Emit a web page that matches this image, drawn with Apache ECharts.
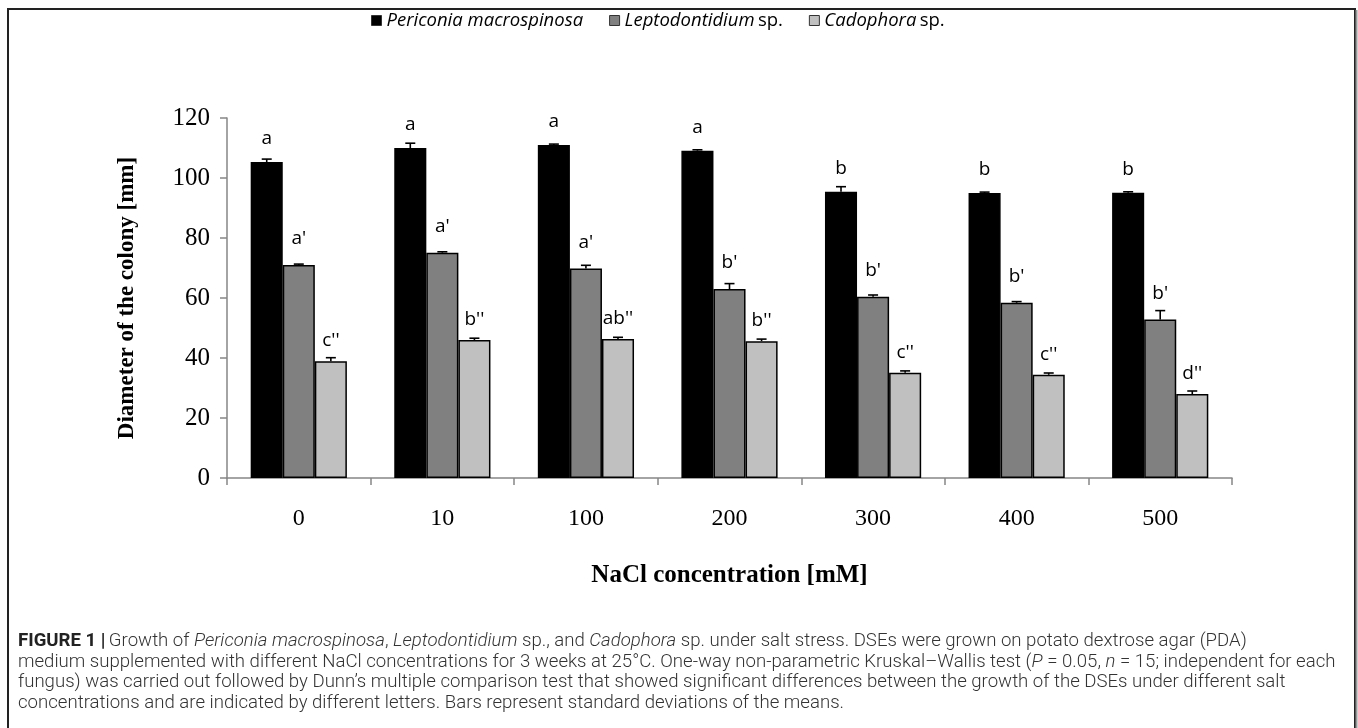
<!DOCTYPE html>
<html>
<head>
<meta charset="utf-8">
<title>NaCl growth</title>
<script src="https://cdn.jsdelivr.net/npm/echarts@6/dist/echarts.min.js"></script>
<style>
  html, body { margin: 0; padding: 0; background: #fff; }
  #chart { width: 1358px; height: 728px; }
</style>
</head>
<body>
<div id="chart"></div>
<script>
// NaCl concentrations (mM)
var categories = ['0', '10', '100', '200', '300', '400', '500'];

// mean colony diameter (mm) and standard deviations
var periconia = [105.3, 110, 111, 109.1, 95.4, 95, 95.1];
var periconiaSd = [1, 1.6, 0.3, 0.3, 1.7, 0.3, 0.3];
var lepto = [71, 75.1, 69.8, 63, 60.4, 58.4, 52.8];
var leptoSd = [0.3, 0.3, 1.1, 1.8, 0.6, 0.4, 3];
var cado = [38.9, 46, 46.3, 45.6, 35.1, 34.4, 28];
var cadoSd = [1.2, 0.6, 0.6, 0.7, 0.6, 0.6, 1];

// significance letters
var periconiaLetters = ['a', 'a', 'a', 'a', 'b', 'b', 'b'];
var leptoLetters = ["a'", "a'", "a'", "b'", "b'", "b'", "b'"];
var cadoLetters = ["c''", "b''", "ab''", "b''", "c''", "c''", "d''"];

var seriesNames = ['Periconia macrospinosa', 'Leptodontidium sp.', 'Cadophora sp.'];
var colors = ['#000000', '#808080', '#c0c0c0'];

var chart = echarts.init(document.getElementById('chart'));

// error bar (upward only) for bar number idx out of 3 in each group
function errorBar(idx) {
  return function (params, api) {
    var band = api.size([1, 0])[0];
    var barW = band * 0.67 / 3;
    var base = api.coord([api.value(0), api.value(1)]);
    var top = api.coord([api.value(0), api.value(1) + api.value(2)]);
    var x = base[0] + (idx - 1) * barW;
    var style = {stroke: '#000', lineWidth: 1.6};
    return {
      type: 'group',
      children: [
        {type: 'line', shape: {x1: x, y1: base[1], x2: x, y2: top[1]}, style: style},
        {type: 'line', shape: {x1: x - 5, y1: top[1], x2: x + 5, y2: top[1]}, style: style}
      ]
    };
  };
}

function errData(means, sds) {
  return means.map(function (v, i) {
    return [i, v, sds[i]];
  });
}

function barSeries(name, data, letters, color, dist) {
  return {
    name: name,
    type: 'bar',
    data: data,
    barGap: '0%',
    barCategoryGap: '33%',
    itemStyle: {color: color, borderColor: '#000', borderWidth: 1.5},
    label: {
      show: true,
      position: 'top',
      distance: dist,
      formatter: function (p) {
        return letters[p.dataIndex];
      },
      fontFamily: 'Open Sans',
      fontSize: 19,
      color: '#000'
    },
    z: 2
  };
}

// caption styles
var capRich = {
  b: {fontFamily: 'Roboto', fontWeight: 'bold', fontSize: 18.6, fill: '#222'},
  n: {fontFamily: 'Roboto', fontWeight: 300, fontSize: 18.6, fill: '#333'},
  i: {fontFamily: 'Roboto', fontWeight: 300, fontStyle: 'italic', fontSize: 18.6, fill: '#333'}
};
var capLines = [
  '{b|FIGURE 1 |} {n|Growth of }{i|Periconia macrospinosa}{n|, }{i|Leptodontidium}{n| sp., and }{i|Cadophora}{n| sp. under salt stress. DSEs were grown on potato dextrose agar (PDA)}',
  '{n|medium supplemented with different NaCl concentrations for 3 weeks at 25°C. One-way non-parametric Kruskal–Wallis test (}{i|P}{n| = 0.05, }{i|n}{n| = 15; independent for each}',
  '{n|fungus) was carried out followed by Dunn’s multiple comparison test that showed significant differences between the growth of the DSEs under different salt}',
  '{n|concentrations and are indicated by different letters. Bars represent standard deviations of the means.}'
];

chart.setOption({
  animation: false,
  legend: {
    top: 6,
    left: 366,
    itemWidth: 10,
    itemHeight: 10,
    itemGap: 26,
    icon: 'rect',
    data: seriesNames,
    formatter: function (name) {
      if (name === 'Periconia macrospinosa') return '{i|Periconia macrospinosa}';
      var parts = name.split(' ');
      return '{i|' + parts[0] + '} {n|' + parts[1] + '}';
    },
    itemStyle: {borderColor: '#333', borderWidth: 1},
    textStyle: {
      rich: {
        i: {fontFamily: 'Open Sans', fontStyle: 'italic', fontSize: 18.5, color: '#000'},
        n: {fontFamily: 'Open Sans', fontSize: 18.5, color: '#000'}
      }
    }
  },
  grid: {left: 227, right: 126, top: 118, bottom: 250},
  xAxis: {
    type: 'category',
    data: categories,
    name: 'NaCl concentration [mM]',
    nameLocation: 'middle',
    nameGap: 85,
    nameTextStyle: {fontFamily: 'Liberation Serif', fontWeight: 'bold', fontSize: 25, color: '#000'},
    axisLine: {lineStyle: {color: '#868686', width: 1.5}},
    axisTick: {show: true, length: 7, lineStyle: {color: '#868686', width: 1.5}},
    axisLabel: {fontFamily: 'Liberation Serif', fontSize: 24, color: '#000', margin: 29}
  },
  yAxis: {
    type: 'value',
    min: 0,
    max: 120,
    interval: 20,
    name: 'Diameter of the colony [mm]',
    nameLocation: 'middle',
    nameGap: 88,
    nameTextStyle: {fontFamily: 'Liberation Serif', fontWeight: 'bold', fontSize: 23, color: '#000'},
    axisLine: {show: true, lineStyle: {color: '#868686', width: 1.5}},
    axisTick: {show: true, length: 7, lineStyle: {color: '#868686', width: 1.5}},
    axisLabel: {fontFamily: 'Liberation Serif', fontSize: 25, color: '#000', margin: 17},
    splitLine: {show: false}
  },
  series: [
    barSeries(seriesNames[0], periconia, periconiaLetters, colors[0], 14),
    barSeries(seriesNames[1], lepto, leptoLetters, colors[1], 17),
    barSeries(seriesNames[2], cado, cadoLetters, colors[2], 11),
    {type: 'custom', renderItem: errorBar(0), data: errData(periconia, periconiaSd), encode: {x: 0, y: 1}, z: 3, silent: true},
    {type: 'custom', renderItem: errorBar(1), data: errData(lepto, leptoSd), encode: {x: 0, y: 1}, z: 3, silent: true},
    {type: 'custom', renderItem: errorBar(2), data: errData(cado, cadoSd), encode: {x: 0, y: 1}, z: 3, silent: true}
  ],
  graphic: [
    // figure frame
    {type: 'rect', shape: {x: 8, y: 9, width: 1347, height: 740}, style: {fill: null, stroke: '#222', lineWidth: 2}, z: 0},
    {type: 'line', shape: {x1: 1356.5, y1: 10, x2: 1356.5, y2: 728}, style: {stroke: '#999', lineWidth: 2}},
    {
      type: 'group', left: 18, top: 632,
      children: capLines.map(function (t, i) {
        return {type: 'text', x: 0, y: i * 20.5, style: {text: t, rich: capRich}};
      })
    }
  ]
});
</script>
</body>
</html>
